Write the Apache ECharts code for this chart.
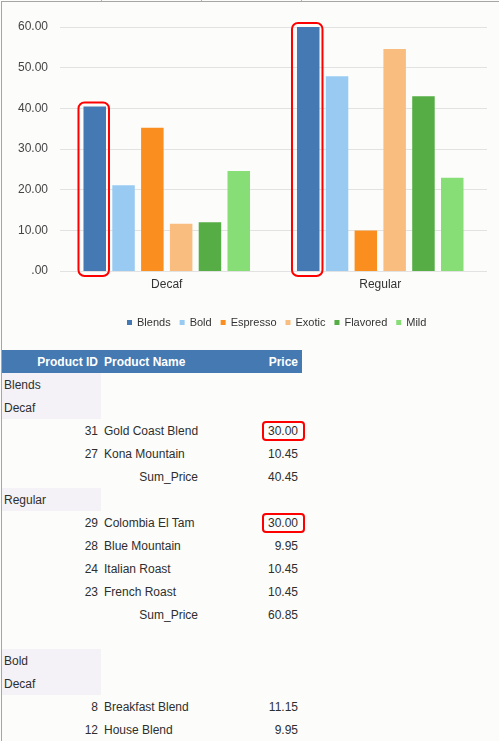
<!DOCTYPE html>
<html>
<head>
<meta charset="utf-8">
<script src="https://cdn.jsdelivr.net/npm/echarts@6/dist/echarts.min.js"></script>
<style>
  body { margin: 0; background: #fcfdfb; width: 499px; height: 741px; overflow: hidden; position: relative; }
  #frame { position: absolute; left: 1px; top: 1px; width: 498px; height: 740px; border-left: 1px solid #a6a6a6; border-top: 1px solid #a6a6a6; box-sizing: border-box; }
  .tick { position: absolute; top: 0; width: 1px; height: 1px; background: #b0b0b0; }
  #chart { position: absolute; left: 0; top: 0; width: 499px; height: 345px; }
  #report { position: absolute; left: 2px; top: 350px; border-collapse: collapse; table-layout: fixed;
    font-family: 'Liberation Sans', Arial, sans-serif; font-size: 12px; color: #2e2e2e; }
  #report td, #report th { height: 23px; padding: 0; white-space: nowrap; overflow: visible; }
  #report th { background: #4479b1; color: #fff; font-weight: bold; }
  .c1 { width: 99px; text-align: right; padding-right: 3px !important; box-sizing: border-box; }
  .c2 { width: 100px; text-align: left; padding-left: 3px !important; box-sizing: border-box; }
  .c3 { width: 101px; text-align: right; padding-right: 4px !important; box-sizing: border-box; }
  .grp { background: #f4f2f7; text-align: left !important; padding-left: 2px !important; }
  .sum { text-align: right !important; padding-right: 3px !important; padding-left: 0 !important; }
  .mark { display: inline-block; border: 2px solid #f00; border-radius: 4px; padding: 0 5px 0 4px; margin-right: -7px; line-height: 16px; }
</style>
</head>
<body>
<div id="frame"></div>
<div class="tick" style="left:101px"></div>
<div class="tick" style="left:201px"></div>
<div class="tick" style="left:301px"></div>
<div id="chart"></div>
<table id="report"></table>
<script>
// chart data
const categories = ['Decaf', 'Regular'];
const seriesNames = ['Blends', 'Bold', 'Espresso', 'Exotic', 'Flavored', 'Mild'];
const blends = [40.45, 60.85];
const bold = [21.1, 47.9];
const espresso = [35.2, 9.95];
const exotic = [11.6, 54.6];
const flavored = [12.0, 43.0];
const mild = [24.6, 22.9];
const yTicks = [0, 10, 20, 30, 40, 50, 60];

// report rows
const tableHeader = ['Product ID', 'Product Name', 'Price'];
const tableRows = [
  {group: 'Blends'},
  {group: 'Decaf'},
  {id: 31, name: 'Gold Coast Blend', price: '30.00', mark: true},
  {id: 27, name: 'Kona Mountain', price: '10.45'},
  {sum: 'Sum_Price', price: '40.45'},
  {group: 'Regular'},
  {id: 29, name: 'Colombia El Tam', price: '30.00', mark: true},
  {id: 28, name: 'Blue Mountain', price: '9.95'},
  {id: 24, name: 'Italian Roast', price: '10.45'},
  {id: 23, name: 'French Roast', price: '10.45'},
  {sum: 'Sum_Price', price: '60.85'},
  {blank: true},
  {group: 'Bold'},
  {group: 'Decaf'},
  {id: 8, name: 'Breakfast Blend', price: '11.15'},
  {id: 12, name: 'House Blend', price: '9.95'}
];

const colors = ['#4479b3', '#99cbf2', '#fa8e1e', '#fabd80', '#56ad45', '#87dd76'];
const values = [blends, bold, espresso, exotic, flavored, mild];

const chart = echarts.init(document.getElementById('chart'));

const option = {
  animation: false,
  color: colors,
  textStyle: {fontFamily: "'Liberation Sans', Arial, sans-serif"},
  grid: {left: 60, right: 12, top: 27, bottom: 74},
  legend: {
    data: seriesNames,
    left: 122,
    top: 312,
    icon: 'rect',
    itemWidth: 5,
    itemHeight: 5,
    itemGap: 9,
    textStyle: {fontSize: 11, color: '#333'}
  },
  xAxis: {
    type: 'category',
    data: categories,
    axisLine: {show: false},
    axisTick: {show: false},
    axisLabel: {fontSize: 12, color: '#333', margin: 8}
  },
  yAxis: {
    type: 'value',
    min: yTicks[0],
    max: yTicks[yTicks.length - 1],
    interval: 10,
    axisLine: {show: false},
    axisTick: {show: false},
    axisLabel: {
      fontSize: 12, color: '#444', margin: 12,
      formatter: function (v) { return v === 0 ? '.00' : v.toFixed(2); }
    },
    splitLine: {lineStyle: {color: '#e2e2e2'}}
  },
  series: seriesNames.map(function (name, i) {
    return {
      name: name,
      type: 'bar',
      data: values[i],
      barGap: '28%',
      barCategoryGap: '22%',
      clip: true
    };
  })
};

chart.setOption(option);

// red highlight boxes around the Blends bars, placed from the bar layout
const blendData = chart.getModel().getSeriesByIndex(0).getData();
const topY = chart.convertToPixel({yAxisIndex: 0}, yTicks[yTicks.length - 1]);
const boxes = categories.map(function (c, i) {
  const l = blendData.getItemLayout(i);
  let y0 = Math.min(l.y, l.y + l.height);
  const y1 = Math.max(l.y, l.y + l.height);
  y0 = Math.max(y0, topY);
  return {
    type: 'rect',
    shape: {x: l.x - 5, y: y0 - 4, width: l.width + 8, height: y1 - y0 + 9, r: 6},
    style: {fill: 'none', stroke: '#ff0000', lineWidth: 2},
    z: 100
  };
});
chart.setOption({graphic: boxes});

// report table
const table = document.getElementById('report');
let html = '<tr><th class="c1">' + tableHeader[0] + '</th><th class="c2">' + tableHeader[1] +
  '</th><th class="c3">' + tableHeader[2] + '</th></tr>';
tableRows.forEach(function (r) {
  if (r.group) {
    html += '<tr><td class="c1 grp">' + r.group + '</td><td class="c2"></td><td class="c3"></td></tr>';
  } else if (r.sum) {
    html += '<tr><td class="c1"></td><td class="c2 sum">' + r.sum + '</td><td class="c3">' + r.price + '</td></tr>';
  } else if (r.blank) {
    html += '<tr><td class="c1"></td><td class="c2"></td><td class="c3"></td></tr>';
  } else {
    const p = r.mark ? '<span class="mark">' + r.price + '</span>' : r.price;
    html += '<tr><td class="c1">' + r.id + '</td><td class="c2">' + r.name + '</td><td class="c3">' + p + '</td></tr>';
  }
});
table.innerHTML = html;
</script>
</body>
</html>
